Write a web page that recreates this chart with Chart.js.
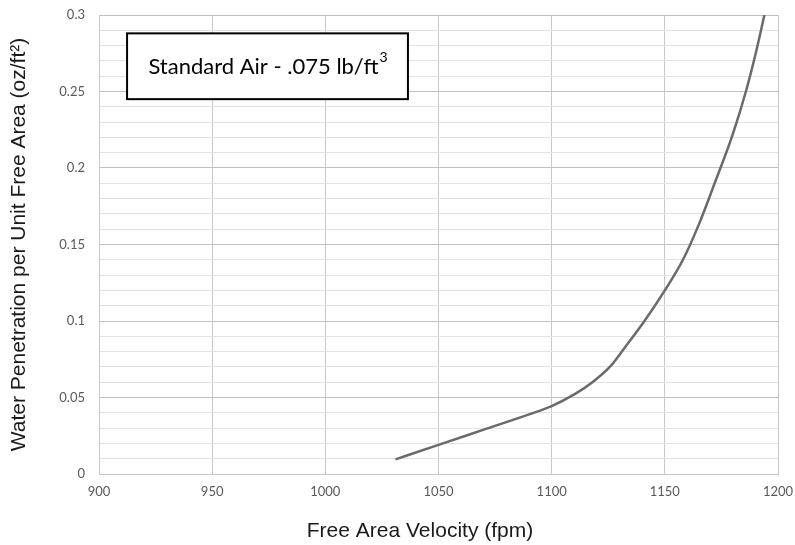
<!DOCTYPE html>
<html>
<head>
<meta charset="utf-8">
<script src="https://cdn.jsdelivr.net/npm/chart.js@4"></script>
<style>
  html, body { margin: 0; padding: 0; background: #fff; }
  #wrap { width: 795px; height: 545px; }
</style>
</head>
<body>
<div id="wrap"><canvas id="myChart" width="795" height="545"></canvas></div>
<script>
// values
const velocity = [1031, 1050, 1070, 1090, 1100, 1110, 1118, 1126, 1133, 1141, 1150, 1158, 1165, 1172, 1180, 1186, 1190, 1194];
const penetration = [0.0096, 0.019, 0.029, 0.039, 0.0444, 0.052, 0.060, 0.0705, 0.084, 0.100, 0.120, 0.140, 0.163, 0.190, 0.222, 0.251, 0.274, 0.300];

const xTitle = 'Free Area Velocity (fpm)';
const yTitle = 'Water Penetration per Unit Free Area (oz/ft\u00B2)';
const noteText = 'Standard Air - .075 lb/ft';
const noteSup = '3';

const ctx = document.getElementById('myChart').getContext('2d');

const points = velocity.map((v, i) => ({ x: v, y: penetration[i] }));

// text box in the upper left of the plot, plus the x title (centred on the whole chart)
const noteBox = {
  id: 'noteBox',
  afterDraw(chart) {
    const { ctx, scales: { x, y } } = chart;
    const left = x.getPixelForValue(912.4);
    const right = x.getPixelForValue(1036.5);
    const top = y.getPixelForValue(0.288);
    const bottom = y.getPixelForValue(0.245);
    ctx.save();
    ctx.fillStyle = '#fff';
    ctx.fillRect(left, top, right - left, bottom - top);
    ctx.strokeStyle = '#000';
    ctx.lineWidth = 2;
    ctx.strokeRect(left, top, right - left, bottom - top);
    ctx.fillStyle = '#000';
    ctx.textBaseline = 'middle';
    ctx.font = '22px Lato';
    const w1 = ctx.measureText(noteText).width;
    ctx.font = '14px Lato';
    const w2 = ctx.measureText(noteSup).width;
    const startX = (left + right) / 2 - (w1 + w2) / 2;
    const midY = (top + bottom) / 2 + 1;
    ctx.font = '22px Lato';
    ctx.fillText(noteText, startX, midY);
    ctx.font = '14px Lato';
    ctx.fillText(noteSup, startX + w1 + 1, midY - 10);

    ctx.fillStyle = '#1a1a1a';
    ctx.font = '21px "Liberation Sans"';
    ctx.textAlign = 'center';
    ctx.fillText(xTitle, 420, 531);
    ctx.restore();
  }
};

const config = {
  type: 'scatter',
  data: {
    datasets: [{
      data: points,
      showLine: true,
      borderColor: '#6a6a6a',
      borderWidth: 2.5,
      pointRadius: 0,
      cubicInterpolationMode: 'monotone',
      fill: false
    }]
  },
  options: {
    responsive: false,
    animation: false,
    layout: { padding: { top: 15, right: 17, left: 0, bottom: 0 } },
    plugins: {
      legend: { display: false },
      tooltip: { enabled: false }
    },
    scales: {
      x: {
        type: 'linear',
        min: 900,
        max: 1200,
        afterFit(scale) {
          scale.height = 71;
          scale.paddingLeft = 0;
          scale.paddingRight = 0;
        },
        ticks: {
          stepSize: 50,
          padding: 10,
          color: '#595959',
          maxRotation: 0,
          font: { size: 13, family: 'Lato' },
          callback: (v) => String(v)
        },
        grid: { color: '#c8c8c8', drawTicks: false },
        border: { color: '#c8c8c8' }
      },
      y: {
        min: 0,
        max: 0.3,
        afterFit(scale) {
          scale.width = 99;
          scale.paddingTop = 0;
          scale.paddingBottom = 0;
        },
        ticks: {
          stepSize: 0.01,
          autoSkip: false,
          padding: 14,
          color: '#595959',
          font: { size: 13, family: 'Lato' },
          callback: (v) => (Math.round(v * 100) % 5 === 0 ? String(Math.round(v * 100) / 100) : '')
        },
        grid: {
          drawTicks: false,
          color: (c) => (Math.round(c.tick.value * 100) % 5 === 0 ? '#c0c0c0' : '#e2e2e2')
        },
        border: { color: '#c8c8c8' },
        title: {
          display: true,
          text: yTitle,
          color: '#1a1a1a',
          padding: { top: 7, bottom: 0 },
          font: { size: 21, family: 'Liberation Sans' }
        }
      }
    }
  },
  plugins: [noteBox]
};

const myChart = new Chart(ctx, config);
</script>
</body>
</html>
